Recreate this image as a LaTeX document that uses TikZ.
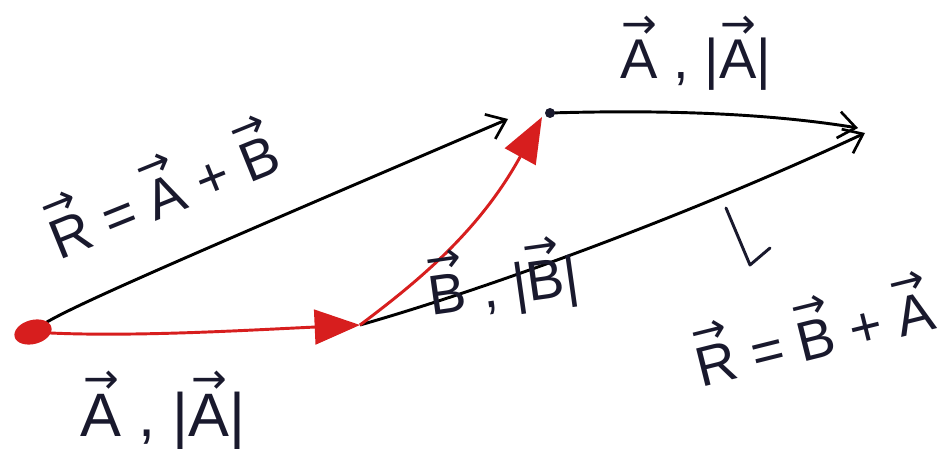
\documentclass[tikz,border=0pt]{standalone}
\usepackage{fontspec}
\setmainfont{Liberation Sans}
\newfontfamily\symf{DejaVu Sans}
\usetikzlibrary{arrows.meta}
\definecolor{ink}{RGB}{25,25,45}
\definecolor{redink}{RGB}{215,30,30}
\newsavebox\vabox
\newcommand\va[1]{\sbox\vabox{#1}\mbox{\rlap{\usebox\vabox}\raisebox{\dimexpr\ht\vabox+0.02em\relax}{\makebox[\wd\vabox]{\symf\fontsize{32}{32}\selectfont →}}}}
\tikzset{
  blk/.style={draw=black,line width=2.2pt},
  redl/.style={draw=redink,line width=2.2pt},
  barb/.style={-{Straight Barb[length=13pt,width=20pt,line width=2pt]}},
  redhead/.style={-{Triangle[length=34pt,width=26pt,fill=redink]}},
  lab/.style={text=ink,inner sep=0pt,font=\fontsize{42}{48}\selectfont},
}
\begin{document}
\begin{tikzpicture}[x=0.75pt,y=-0.75pt]
\useasboundingbox (0,0) rectangle (940,460);
\fill[white] (0,0) rectangle (940,460);
\coordinate (O) at (33,332);
\coordinate (P) at (360,325);
\coordinate (Q) at (542,117);
\coordinate (D) at (550,113);
\coordinate (Rend) at (508,119);
\coordinate (T) at (858,128);
\coordinate (U) at (865,133);
% resultant R from origin
\draw[blk,barb] (O) .. controls (45,318) and (120,285) .. (Rend);
% top A
\draw[blk,barb] (D) .. controls (650,110) and (760,112) .. (T);
% lower R
\draw[blk,barb] (P) .. controls (500,285) and (700,210) .. (U);
% red A and B
\draw[redl,redhead] (O) .. controls (120,338) and (250,330) .. (P);
\draw[redl,redhead] (P) .. controls (420,280) and (480,230) .. (Q);
% dots
\fill[redink,rotate around={15:(O)}] (O) ellipse[x radius=19,y radius=12];
\fill[ink] (D) circle[radius=5];
% labels
\node[lab,font=\fontsize{46}{52}\selectfont] (la) at (163,410) {\va{A} , |\va{A}|};
\node[lab] (lt) at (696,53) {\va{A} , |\va{A}|};
\node[lab,rotate=22] (lr1) at (160,186) {\va{R} = \va{A} + \va{B}};
\node[lab,rotate=8] (lb) at (503,280) {\va{B} , |\va{B}|};
\node[lab,rotate=14] (lr2) at (812,328) {\va{R} = \va{B} + \va{A}};
% small down arrow
\coordinate (d1) at (726,208);
\coordinate (d2) at (750,265);
\coordinate (d3) at (770,248);
\draw[ink,line width=2.2pt,line cap=round,line join=round] (d1) -- (d2) -- (d3);
\end{tikzpicture}
\end{document}
